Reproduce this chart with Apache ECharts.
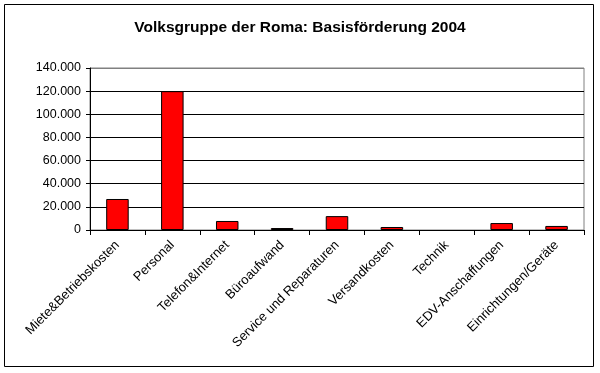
<!DOCTYPE html>
<html><head><meta charset="utf-8">
<script src="https://cdn.jsdelivr.net/npm/echarts@6/dist/echarts.min.js"></script>
<style>html,body{margin:0;padding:0;background:#fff}#c{width:600px;height:373px}</style>
</head><body><div id="c"></div>
<script>
var categories = ["Miete&Betriebskosten","Personal","Telefon&Internet","Büroaufwand","Service und Reparaturen","Versandkosten","Technik","EDV-Anschaffungen","Einrichtungen/Geräte"];
var values = [26800, 120000, 7800, 1700, 12000, 2600, 0, 6000, 3500];
var yTicks = [0, 20000, 40000, 60000, 80000, 100000, 120000, 140000];
var titleText = "Volksgruppe der Roma: Basisförderung 2004";

var chart = echarts.init(document.getElementById('c'), null, {renderer:'canvas'});
function fmt(v){ return v === 0 ? '0' : String(v).replace(/\B(?=(\d{3})+(?!\d))/g, '.'); }
var F = 'Liberation Sans, Arial, sans-serif';
chart.setOption({
  animation:false,
  backgroundColor:'#fff',
  textStyle:{fontFamily:F},
  title:{text:titleText,left:'center',top:15,textStyle:{fontSize:15.5,fontWeight:'bold',color:'#000',fontFamily:F}},
  graphic:[{type:'rect',shape:{x:4.5,y:4.5,width:589,height:362},style:{fill:null,stroke:'#000',lineWidth:1},silent:true}],
  grid:{left:90,right:16,top:68,bottom:143,show:true,borderColor:'#808080',borderWidth:1,backgroundColor:'transparent'},
  xAxis:{type:'category',data:categories,
    axisLine:{lineStyle:{color:'#000',width:1}},
    axisTick:{show:true,interval:0,length:5,lineStyle:{color:'#000'}},
    axisLabel:{interval:0,rotate:45,fontSize:13,color:'#000',margin:13,fontFamily:F}},
  yAxis:{type:'value',min:yTicks[0],max:yTicks[yTicks.length-1],interval:yTicks[1]-yTicks[0],
    axisLine:{show:true,lineStyle:{color:'#000'}},
    axisTick:{show:true,length:4,lineStyle:{color:'#000'}},
    axisLabel:{formatter:fmt,fontSize:12.5,color:'#000',margin:9,fontFamily:F}},
  series:[{type:'bar',data:values.map(function(v){return v===0?'-':v;}),barWidth:'41%',
    itemStyle:{color:'#ff0000',borderColor:'#000',borderWidth:1}}]
});
chart.setOption({yAxis:{splitLine:{show:true,lineStyle:{color:['#000','#000','#000','#000','#000','#000','#000','#808080'],width:1}}}});
</script></body></html>
